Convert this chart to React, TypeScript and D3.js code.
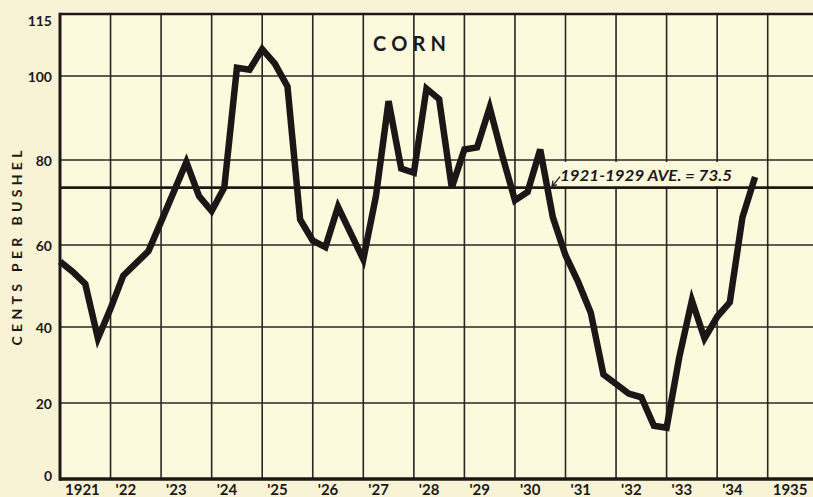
import React from "react";
import * as d3 from "d3";

// ---- data ----
const startYear = 1921;
// quarterly average farm price of corn, cents per bushel
const priceCents = [
  56, 53.5, 50.5, 37,
  44.5, 52.5, 55.5, 58.5,
  65.5, 72.5, 79.5, 71.5,
  68, 73.5, 102, 101.5,
  106.5, 103, 97.5, 66,
  61, 59.5, 69, 62.8,
  56.5, 71.5, 94, 78,
  77, 97, 94.5, 73.5,
  82.5, 83, 92.5, 81,
  70.5, 72.5, 82.5, 66.5,
  57.5, 51, 43.5, 27.5,
  25, 22.5, 21.5, 14,
  13.5, 32, 46.5, 37,
  42.5, 46, 66.5, 76,
];
const yearTicks = [1921, 1922, 1923, 1924, 1925, 1926, 1927, 1928, 1929, 1930, 1931, 1932, 1933, 1934, 1935];
const yearLabels = ["1921", "'22", "'23", "'24", "'25", "'26", "'27", "'28", "'29", "'30", "'31", "'32", "'33", "'34", "1935"];
const valueTicks = [0, 20, 40, 60, 80, 100, 115];
const gridValues = [20, 40, 60, 80, 100];
const average = 73.5;
const title = "CORN";
const yTitle = "CENTS PER BUSHEL";
const avgLabel = "1921-1929 AVE. = 73.5";

const W = 813;
const H = 497;
const L = 60;
const T = 14;
const B = 479;

export default function App() {
  const x = d3.scaleLinear().domain([1921, 1935]).range([L, 767.7]);
  // hand-drawn grid: slightly uneven spacing, so use a polylinear scale
  const y = d3
    .scaleLinear()
    .domain(valueTicks)
    .range([479, 403, 327, 245, 160, 76, 14]);

  const pts: [number, number][] = priceCents.map((v, i) => [startYear + i / 4, v]);
  const line = d3
    .line<[number, number]>()
    .x((d) => x(d[0]))
    .y((d) => y(d[1]));

  const ink = "#2b2525";
  const font = "Lato, 'DejaVu Sans', sans-serif";
  const yAvg = y(average);

  return (
    <svg
      width={W}
      height={H}
      style={{ position: "absolute", left: 0, top: 0, background: "#f7f3d4" }}
    >
      <rect x={0} y={0} width={W} height={H} fill="#f7f3d4" />
      <rect x={L} y={T} width={W - L} height={B - T} fill="#fcf9dd" />

      {/* horizontal gridlines */}
      {gridValues.map((v) => (
        <line key={"h" + v} x1={L} x2={W} y1={y(v)} y2={y(v)} stroke={ink} strokeWidth={1.6} />
      ))}
      {/* vertical gridlines */}
      {yearTicks.slice(1).map((yr) => (
        <line key={"v" + yr} x1={x(yr)} x2={x(yr)} y1={T} y2={B} stroke={ink} strokeWidth={1.6} />
      ))}

      {/* annotation background */}
      <rect x={553} y={y(80) + 2} width={188} height={yAvg - y(80) - 3} fill="#fcf9dd" />

      {/* average line */}
      <line x1={L} x2={W} y1={yAvg} y2={yAvg} stroke="#1e1919" strokeWidth={2.6} />

      {/* frame */}
      <line x1={L} x2={W} y1={T} y2={T} stroke="#1e1919" strokeWidth={2.6} />
      <line x1={L} x2={W} y1={B} y2={B} stroke="#1e1919" strokeWidth={3.6} />
      <line x1={L} x2={L} y1={T - 1.3} y2={B + 1.8} stroke="#1e1919" strokeWidth={3} />

      {/* data line */}
      <path
        d={line(pts) || ""}
        fill="none"
        stroke="#1c1616"
        strokeWidth={6.5}
        strokeLinejoin="miter"
        strokeMiterlimit={4}
      />

      {/* annotation */}
      <path
        d={`M${552},${yAvg - 1} L${560},${yAvg - 11} M${552},${yAvg - 1} L${553},${yAvg - 7} M${552},${yAvg - 1} L${557},${yAvg - 3}`}
        stroke={ink}
        strokeWidth={1.4}
        fill="none"
      />
      <text
        x={560}
        y={yAvg - 7}
        fontFamily={font}
        fontStyle="italic"
        fontWeight={700}
        fontSize={15}
        fill="#1e1919"
        textLength={172}
        lengthAdjust="spacingAndGlyphs"
      >
        {avgLabel}
      </text>

      {/* title */}
      <text
        x={373}
        y={51}
        fontFamily={font}
        fontWeight={700}
        fontSize={20}
        fill="#1e1919"
        textLength={73}
        lengthAdjust="spacing"
      >
        {title}
      </text>

      {/* y tick labels */}
      {valueTicks.map((v) => (
        <text
          key={"yl" + v}
          x={52}
          y={y(v) + (v === 0 ? -4 : v === 115 ? 6 : 0)}
          textAnchor="end"
          dominantBaseline="central"
          fontFamily={font}
          fontWeight={700}
          fontSize={14}
          fill="#1e1919"
        >
          {v}
        </text>
      ))}

      {/* y axis title */}
      <text
        transform={`translate(22,${248}) rotate(-90)`}
        textAnchor="middle"
        fontFamily={font}
        fontWeight={700}
        fontSize={14}
        fill="#1e1919"
        textLength={195}
        lengthAdjust="spacing"
      >
        {yTitle}
      </text>

      {/* x tick labels */}
      {yearTicks.map((yr, i) => (
        <text
          key={"xl" + yr}
          x={x(yr) + 5}
          y={495}
          fontFamily={font}
          fontWeight={700}
          fontSize={15}
          fill="#1e1919"
        >
          {yearLabels[i]}
        </text>
      ))}
    </svg>
  );
}
